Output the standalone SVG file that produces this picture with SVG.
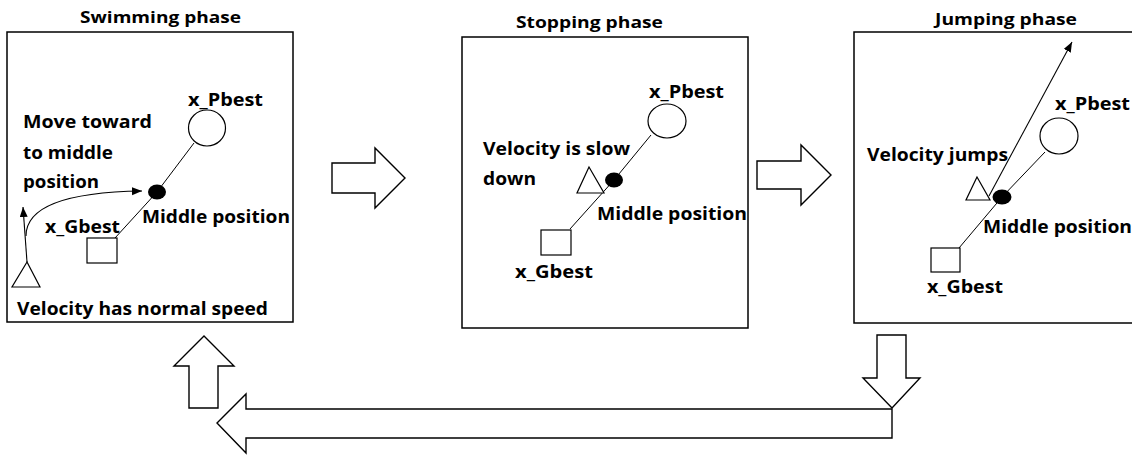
<svg xmlns="http://www.w3.org/2000/svg" width="1132" height="455" viewBox="0 0 1132 455">
  <style>
    .frame { fill: #ffffff; stroke: #000000; stroke-width: 1.5; }
    .title { font-family: "Open Sans", "Liberation Sans", sans-serif; font-weight: bold; font-size: 16.5px; fill: #000000; }
    .lbl { font-family: "Open Sans", "Liberation Sans", sans-serif; font-weight: bold; font-size: 18px; fill: #000000; }
    .shape { fill: #ffffff; stroke: #000000; stroke-width: 1.2; }
    .dot { fill: #000000; stroke: none; }
    .link { fill: none; stroke: #000000; stroke-width: 1; }
    .move { fill: none; stroke: #000000; stroke-width: 1.1; marker-end: url(#tip); }
    .block { fill: #ffffff; stroke: #000000; stroke-width: 1.4; stroke-linejoin: miter; }
  </style>
  <defs>
    <marker id="tip" markerUnits="userSpaceOnUse" markerWidth="11" markerHeight="9" refX="10" refY="4" orient="auto">
      <path d="M0,0 L10,4 L0,8 z" fill="#000000"/>
    </marker>
  </defs>

  <rect width="1132" height="455" fill="#ffffff"/>

  <!-- Swimming phase panel -->
  <g id="swimming">
    <text class="title" x="80" y="23" textLength="161" lengthAdjust="spacingAndGlyphs">Swimming phase</text>
    <rect class="frame" x="7" y="32" width="286" height="290"/>
    <text class="lbl" x="188" y="106" textLength="75" lengthAdjust="spacingAndGlyphs">x_Pbest</text>
    <ellipse class="shape" cx="207" cy="128" rx="18.5" ry="18"/>
    <polyline class="link" points="194,143 157,192 115,238"/>
    <ellipse class="dot" cx="157" cy="192" rx="9" ry="7.5"/>
    <rect class="shape" x="87" y="238" width="30" height="25"/>
    <text class="lbl" x="45" y="233" textLength="75" lengthAdjust="spacingAndGlyphs">x_Gbest</text>
    <text class="lbl" x="142" y="223" textLength="148" lengthAdjust="spacingAndGlyphs">Middle position</text>
    <text class="lbl" x="23" y="128" textLength="129" lengthAdjust="spacingAndGlyphs">Move toward</text>
    <text class="lbl" x="23" y="159" textLength="90" lengthAdjust="spacingAndGlyphs">to middle</text>
    <text class="lbl" x="23" y="188" textLength="76" lengthAdjust="spacingAndGlyphs">position</text>
    <polygon class="shape" points="27,262 12,287 40,287"/>
    <path class="move" d="M27,262 L23,207"/>
    <path class="move" d="M26,236 C26,205 70,192 142,191"/>
    <text class="lbl" x="17" y="315" textLength="251" lengthAdjust="spacingAndGlyphs">Velocity has normal speed</text>
  </g>

  <!-- Stopping phase panel -->
  <g id="stopping">
    <text class="title" x="516" y="28" textLength="147" lengthAdjust="spacingAndGlyphs">Stopping phase</text>
    <rect class="frame" x="462" y="37" width="286" height="291"/>
    <text class="lbl" x="649" y="98" textLength="75" lengthAdjust="spacingAndGlyphs">x_Pbest</text>
    <ellipse class="shape" cx="667" cy="121" rx="19" ry="17"/>
    <polyline class="link" points="651,135 614,180 570,229"/>
    <ellipse class="dot" cx="614" cy="180" rx="9" ry="7.5"/>
    <polygon class="shape" points="589,167 577,193 604,193"/>
    <rect class="shape" x="541" y="230" width="30" height="25"/>
    <text class="lbl" x="515" y="278" textLength="78" lengthAdjust="spacingAndGlyphs">x_Gbest</text>
    <text class="lbl" x="483" y="155" textLength="147" lengthAdjust="spacingAndGlyphs">Velocity is slow</text>
    <text class="lbl" x="483" y="185" textLength="53" lengthAdjust="spacingAndGlyphs">down</text>
    <text class="lbl" x="597" y="220" textLength="150" lengthAdjust="spacingAndGlyphs">Middle position</text>
  </g>

  <!-- Jumping phase panel -->
  <g id="jumping">
    <text class="title" x="935" y="25" textLength="142" lengthAdjust="spacingAndGlyphs">Jumping phase</text>
    <rect class="frame" x="854" y="32" width="290" height="291"/>
    <text class="lbl" x="1055" y="110" textLength="75" lengthAdjust="spacingAndGlyphs">x_Pbest</text>
    <ellipse class="shape" cx="1059" cy="136" rx="19" ry="18"/>
    <polyline class="link" points="1045,152 1002,197 959,248"/>
    <path class="move" d="M989,196 L1072,42"/>
    <ellipse class="dot" cx="1002" cy="197" rx="9.5" ry="7.5"/>
    <polygon class="shape" points="977,177 966,200 990,200"/>
    <rect class="shape" x="931" y="248" width="29" height="24"/>
    <text class="lbl" x="927" y="293" textLength="76" lengthAdjust="spacingAndGlyphs">x_Gbest</text>
    <text class="lbl" x="867" y="161" textLength="141" lengthAdjust="spacingAndGlyphs">Velocity jumps</text>
    <text class="lbl" x="983" y="233" textLength="149" lengthAdjust="spacingAndGlyphs">Middle position</text>
  </g>

  <!-- Phase transitions -->
  <g id="connectors">
    <polygon class="block" points="332,163 375,163 375,148 405,178 375,208 375,193 332,193"/>
    <polygon class="block" points="757,161 801,161 801,145 831,175 801,205 801,189 757,189"/>
    <polygon class="block" points="877,335 906,335 906,378 920,378 892,408 863,378 877,378"/>
    <polygon class="block" points="892,409 892,438 246,438 246,453 217,423 246,394 246,409"/>
    <polygon class="block" points="204,336 234,366 218,366 218,408 189,408 189,366 174,366"/>
  </g>
</svg>
